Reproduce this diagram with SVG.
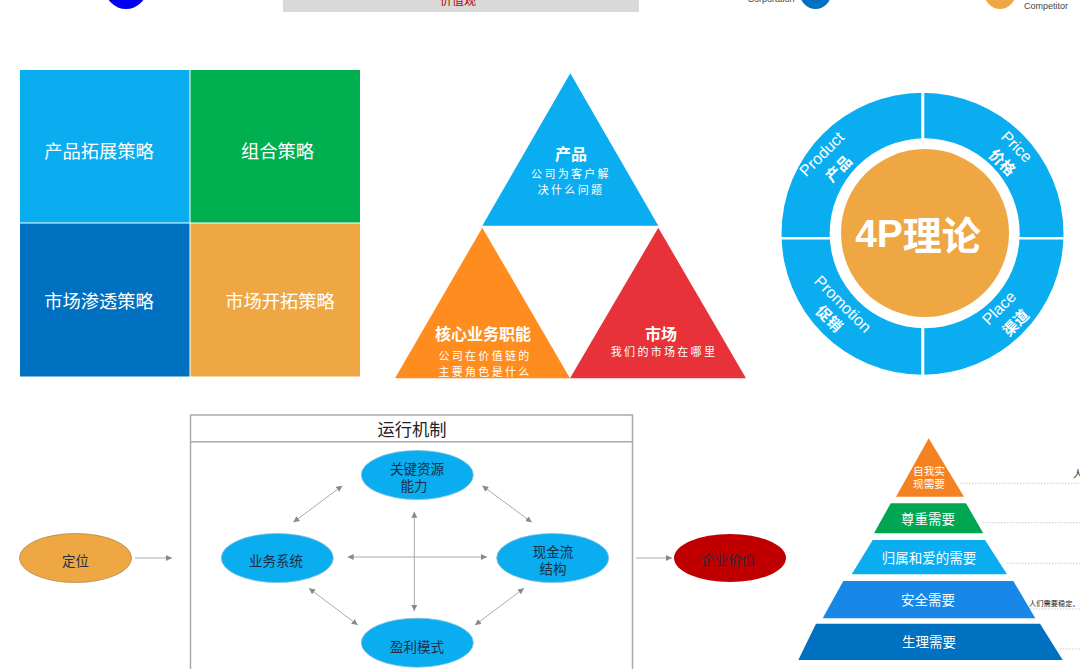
<svg xmlns="http://www.w3.org/2000/svg" width="1080" height="669" viewBox="0 0 1080 669">
<style>
text{font-family:"Noto Sans CJK SC","Liberation Sans",sans-serif;text-anchor:middle;dominant-baseline:central}
.w{fill:#fff}.b{font-weight:700}.d{fill:#1c2f45}
.en{font-family:"Liberation Sans",sans-serif}
.c{stroke:#aaa;stroke-width:1;fill:none;marker-start:url(#as);marker-end:url(#ae)}
.s{stroke:#aaa;stroke-width:1;fill:none;marker-end:url(#ae)}
.dot{stroke:#bbb;stroke-width:.8;stroke-dasharray:1.5 1.5;fill:none}
.e{fill:#0AADEF;stroke:#7fbfe0;stroke-width:.8}
.sub{font-size:11px;letter-spacing:2.300px}
</style>
<defs>
<marker id="ae" markerWidth="8" markerHeight="6" refX="6" refY="3" orient="auto" markerUnits="userSpaceOnUse"><path d="M0 0L6 3L0 6Z" fill="#888"/></marker>
<marker id="as" markerWidth="8" markerHeight="6" refX="0" refY="3" orient="auto" markerUnits="userSpaceOnUse"><path d="M6 0L0 3L6 6Z" fill="#888"/></marker>
</defs>
<rect width="1080" height="669" fill="#fff"/>
<g id="top-strip">
<ellipse cx="126" cy="-12" rx="21" ry="21" fill="#0000f0"/>
<rect x="283" y="0" width="356" height="12" fill="#d9d9d9"/>
<text x="458" y="-1" font-size="12" fill="#c00000">价值观</text>
<ellipse cx="815.500" cy="-8" rx="16" ry="17" fill="#0070C0"/>
<text class="en" x="771" y="-1" font-size="9" fill="#444">Corporation</text>
<ellipse cx="1000" cy="-8" rx="16" ry="17" fill="#EFA743"/>
<text class="en" x="1046" y="6" font-size="9" fill="#444">Competitor</text>
</g>
<g id="strategy-matrix">
<rect x="20" y="70" width="169.500" height="152.500" fill="#0AADEF"/>
<rect x="190.500" y="70" width="169.500" height="152.500" fill="#00B050"/>
<rect x="20" y="223.500" width="169.500" height="153" fill="#0070C0"/>
<rect x="190.500" y="223.500" width="169.500" height="153" fill="#EFA743"/>
<text class="w" x="99" y="150" font-size="18.300">产品拓展策略</text>
<text class="w" x="277.500" y="150" font-size="18.300">组合策略</text>
<text class="w" x="99" y="300" font-size="18.300">市场渗透策略</text>
<text class="w" x="280" y="300" font-size="18.300">市场开拓策略</text>
</g>
<g id="triangle-product">
<polygon points="570.300,73.300 658.300,225.700 482.300,225.700" fill="#0AADEF"/>
<text class="w b" x="571" y="152.500" font-size="16">产品</text>
<text class="w sub" x="571" y="173">公司为客户解</text>
<text class="w sub" x="571" y="189">决什么问题</text>
</g>
<g id="triangle-core">
<polygon points="482.300,227.700 570,378.300 395,378.300" fill="#FF8C1E"/>
<text class="w b" x="483" y="332.500" font-size="16">核心业务职能</text>
<text class="w sub" x="485" y="355">公司在价值链的</text>
<text class="w sub" x="485" y="371">主要角色是什么</text>
</g>
<g id="triangle-market">
<polygon points="658.300,227.700 746,378.300 570,378.300" fill="#E63238"/>
<text class="w b" x="661" y="332.500" font-size="16">市场</text>
<text class="w sub" x="664" y="351">我们的市场在哪里</text>
</g>
<g id="wheel-4p">
<circle cx="922.500" cy="233.800" r="141" fill="#0AADEF"/>
<circle cx="924.700" cy="233.300" r="95" fill="#fff"/>
<rect x="921.300" y="90" width="3" height="85" fill="#fff"/>
<rect x="921.300" y="325" width="3" height="52" fill="#fff"/>
<rect x="778" y="237" width="52" height="2.500" fill="#fff"/>
<rect x="1018" y="237" width="50" height="2.500" fill="#fff"/>
<circle cx="925" cy="233" r="84" fill="#EFA743"/>
<text class="w b" x="918" y="233" font-size="39"><tspan class="en">4P</tspan>理论</text>
<text class="w en" transform="translate(821.700 154) rotate(-45)" font-size="16">Product</text>
<text class="w b" transform="translate(838 168) rotate(-45)" font-size="15">产品</text>
<text class="w en" transform="translate(1016.700 146.700) rotate(45)" font-size="16">Price</text>
<text class="w b" transform="translate(1003 161.700) rotate(45)" font-size="15">价格</text>
<text class="w en" transform="translate(843 304) rotate(45)" font-size="16">Promotion</text>
<text class="w b" transform="translate(830 318) rotate(45)" font-size="15">促销</text>
<text class="w en" transform="translate(999 308) rotate(-45)" font-size="16">Place</text>
<text class="w b" transform="translate(1015 322) rotate(-45)" font-size="15">渠道</text>
</g>
<g id="connectors">
<path class="s" d="M135 558H172"/>
<path class="s" d="M636 558H672"/>
<path class="c" d="M293.300 522.300L342.300 485.700"/>
<path class="c" d="M482.300 485.700L531.700 522.300"/>
<path class="c" d="M309 588.300L357.700 625"/>
<path class="c" d="M524 588.300L475 625"/>
<path class="c" d="M347.700 557H487"/>
<path class="c" d="M414.300 511.700V611"/>
</g>
<g id="mechanism-frame">
<path d="M190.500 669V415H632.500V669M190.500 441.700H632.500" fill="none" stroke="#aaa" stroke-width="1.500"/>
<text x="412" y="428" font-size="17.300" fill="#222">运行机制</text>
</g>
<g id="node-positioning"><ellipse cx="75.500" cy="558" rx="56" ry="24.500" fill="#EFA743" stroke="#b08a45" stroke-width=".8"/><text class="d" x="75.500" y="559.500" font-size="13.500">定位</text></g>
<g id="node-resources"><ellipse class="e" cx="417.300" cy="475" rx="56" ry="24.500"/><text class="d" x="417" y="468" font-size="13.500">关键资源</text><text class="d" x="414" y="485" font-size="13.500">能力</text></g>
<g id="node-business"><ellipse class="e" cx="277.300" cy="558" rx="56" ry="24.500"/><text class="d" x="276" y="560" font-size="13.500">业务系统</text></g>
<g id="node-cashflow"><ellipse class="e" cx="552.700" cy="558" rx="56" ry="24.500"/><text class="d" x="553" y="551" font-size="13.500">现金流</text><text class="d" x="553" y="567.500" font-size="13.500">结构</text></g>
<g id="node-profit"><ellipse class="e" cx="417.300" cy="642.700" rx="56" ry="24.500"/><text class="d" x="417" y="646" font-size="13.500">盈利模式</text></g>
<g id="node-value"><ellipse cx="730" cy="558" rx="56" ry="24" fill="#C00000"/><text class="d" x="728" y="559" font-size="13.500">企业价值</text></g>
<g id="maslow-pyramid">
<path class="dot" d="M960 483.300H1080M983 522.700H1080M1007 563.300H1080M1030 609H1080M1060 649H1080"/>
<polygon points="928.700,438.300 964,496.700 896,496.700" fill="#F58220"/>
<polygon points="890.700,503.300 966,503.300 983.300,533.300 874,533.300" fill="#00A651"/>
<polygon points="872.700,540 985,540 1007,574.300 851.700,574.300" fill="#0AADEF"/>
<polygon points="843.300,581 1013.300,581 1035.300,618.300 822.700,618.300" fill="#1787E8"/>
<polygon points="816,623.700 1040,623.700 1062.700,660 798.300,660" fill="#0070C0"/>
<text class="w" x="929" y="470.500" font-size="10.700">自我实</text>
<text class="w" x="929" y="483.500" font-size="10.700">现需要</text>
<text class="w" x="928" y="518" font-size="13.500">尊重需要</text>
<text class="w" x="929" y="557" font-size="13.500">归属和爱的需要</text>
<text class="w" x="928" y="599" font-size="13.500">安全需要</text>
<text class="w" x="929" y="641" font-size="13.500">生理需要</text>
<text x="1054.500" y="603" font-size="7.250" fill="#222">人们需要稳定、</text>
<text x="1078" y="473" font-size="10" fill="#222">人</text>
</g>
</svg>
